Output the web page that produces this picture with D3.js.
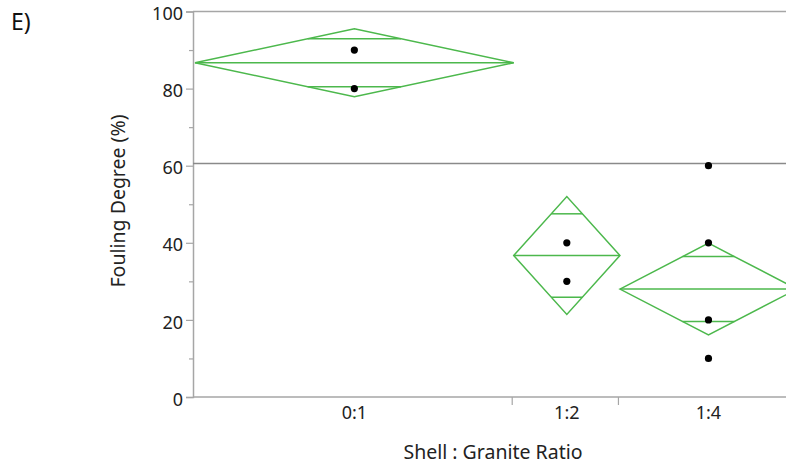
<!DOCTYPE html>
<html>
<head>
<meta charset="utf-8">
<script src="https://cdn.jsdelivr.net/npm/d3@7"></script>
<style>
  html, body { margin: 0; padding: 0; background: #fff; }
  svg { display: block; font-family: "Noto Sans", "Open Sans", sans-serif; }
</style>
</head>
<body>
<svg id="chart" width="786" height="465"></svg>
<script>
// Groups of shell : granite ratio, with the number of samples in each
const categories = ["0:1", "1:2", "1:4"];
const counts = [9, 3, 5];
// Distinct fouling-degree observations shown as dots (%)
const points = [[90, 80], [40, 30], [60, 40, 20, 10]];
// Group means and 95% confidence limits (%)
const means = [86.7, 36.7, 28.0];
const ciLow = [77.9, 21.4, 16.1];
const ciHigh = [95.5, 52.0, 39.9];
const grandMean = 60.6;
const yTicks = [0, 20, 40, 60, 80, 100];
const yMinorTicks = [10, 30, 50, 70, 90];

const svg = d3.select("#chart");
const green = "#4cb84c";
const axisGray = "#a6a6a6";
const textColor = "#222";

const y = d3.scaleLinear().domain([0, 100]).range([397, 11.5]);
const total = d3.sum(counts);
const x = d3.scaleLinear().domain([0, total]).range([195, 797]);
const starts = d3.cumsum([0, ...counts]);
const groups = categories.map((c, i) => ({
  name: c, n: counts[i], x0: x(starts[i]), x1: x(starts[i + 1]),
  mean: means[i], lo: ciLow[i], hi: ciHigh[i], pts: points[i]
}));

// Panel label
svg.append("text").attr("x", 11).attr("y", 30).attr("font-size", 23).attr("fill", "#111").text("E)");

// Frame: top border running to the edge
svg.append("line").attr("x1", 193).attr("x2", 786).attr("y1", y(100)).attr("y2", y(100))
  .attr("stroke", axisGray).attr("stroke-width", 1.5);

// Y axis
const yAxis = d3.axisLeft(y).tickValues(yTicks).tickSize(7).tickPadding(3);
const gy = svg.append("g").attr("transform", "translate(193,0)").call(yAxis);
gy.select(".domain").attr("stroke", axisGray).attr("stroke-width", 1.5);
gy.selectAll(".tick line").attr("stroke", axisGray).attr("stroke-width", 1.2);
gy.selectAll(".tick text").attr("font-size", 18).attr("fill", textColor)
  .attr("font-family", "Noto Sans").attr("dy", "0.45em");
const gyMinor = svg.append("g").attr("transform", "translate(193,0)")
  .call(d3.axisLeft(y).tickValues(yMinorTicks).tickSize(4).tickFormat(""));
gyMinor.select(".domain").remove();
gyMinor.selectAll(".tick line").attr("stroke", axisGray).attr("stroke-width", 1.2);

// X baseline with group boundary ticks
svg.append("line").attr("x1", 193).attr("x2", 786).attr("y1", y(0)).attr("y2", y(0))
  .attr("stroke", axisGray).attr("stroke-width", 1.5);
svg.selectAll(".xbound").data(groups.slice(1)).join("line")
  .attr("class", "xbound")
  .attr("x1", d => d.x0 - 1.5).attr("x2", d => d.x0 - 1.5)
  .attr("y1", y(0)).attr("y2", y(0) + 8)
  .attr("stroke", axisGray).attr("stroke-width", 1.2);
svg.selectAll(".xlab").data(groups).join("text")
  .attr("class", "xlab")
  .attr("x", d => (d.x0 + d.x1) / 2).attr("y", 419)
  .attr("text-anchor", "middle").attr("font-size", 18).attr("fill", textColor)
  .text(d => d.name);

// Axis titles
svg.append("text").attr("x", 493).attr("y", 459).attr("text-anchor", "middle")
  .attr("font-size", 19.5).attr("fill", textColor).text("Shell : Granite Ratio");
svg.append("text").attr("transform", "translate(125,201) rotate(-90)")
  .attr("text-anchor", "middle").attr("font-size", 19.5).attr("fill", textColor)
  .text("Fouling Degree (%)");

// Grand mean reference line
svg.append("line").attr("x1", 193).attr("x2", 786).attr("y1", y(grandMean)).attr("y2", y(grandMean))
  .attr("stroke", "#8a8a8a").attr("stroke-width", 1.5);

// Means diamonds: confidence interval as diamond, overlap marks and mean line
const dia = svg.append("g").attr("fill", "none").attr("stroke", green).attr("stroke-width", 1.5);
groups.forEach(g => {
  const cx = (g.x0 + g.x1) / 2;
  dia.append("path").attr("d", d3.line()([
    [g.x0, y(g.mean)], [cx, y(g.hi)], [g.x1, y(g.mean)], [cx, y(g.lo)], [g.x0, y(g.mean)]
  ]) + "Z");
  dia.append("line").attr("x1", g.x0).attr("x2", g.x1).attr("y1", y(g.mean)).attr("y2", y(g.mean));
  const half = (g.hi - g.mean) / Math.SQRT2;
  const frac = 1 - half / (g.hi - g.mean);
  const hw = (g.x1 - g.x0) / 2 * frac;
  [g.mean + half, g.mean - half].forEach(v => {
    dia.append("line").attr("x1", cx - hw).attr("x2", cx + hw).attr("y1", y(v)).attr("y2", y(v));
  });
});

// Observations
groups.forEach(g => {
  const cx = (g.x0 + g.x1) / 2;
  svg.selectAll(null).data(g.pts).join("circle")
    .attr("cx", cx).attr("cy", d => y(d)).attr("r", 3.6).attr("fill", "#000");
});
</script>
</body>
</html>
